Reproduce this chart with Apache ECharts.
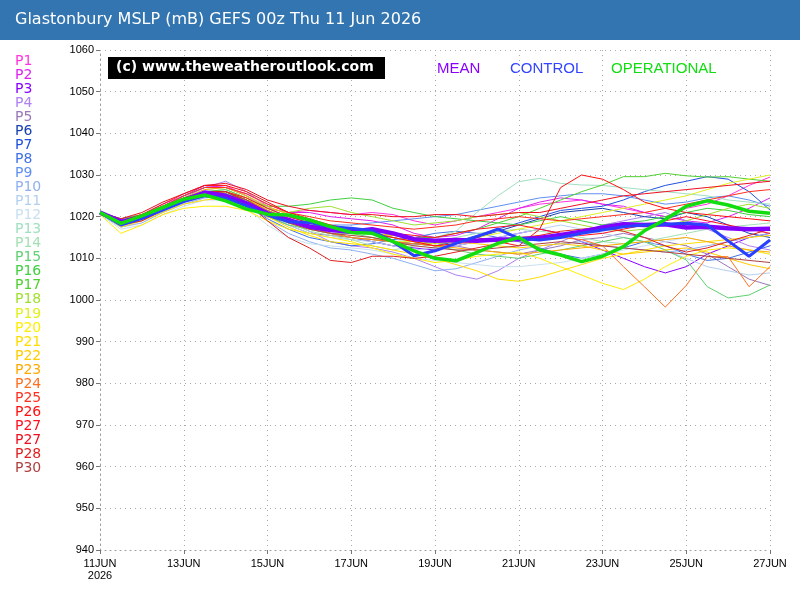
<!DOCTYPE html>
<html>
<head>
<meta charset="utf-8">
<script src="https://cdn.jsdelivr.net/npm/echarts@6/dist/echarts.min.js"></script>
<style>
  html,body{margin:0;padding:0;background:#fff;}
  #main{width:800px;height:600px;}
</style>
</head>
<body>
<div id="main"></div>
<script>
// 12 hourly steps, 11 Jun 00z -> 27 Jun 00z
var times = ['11JUN 00','11JUN 12','12JUN 00','12JUN 12','13JUN 00','13JUN 12','14JUN 00','14JUN 12',
  '15JUN 00','15JUN 12','16JUN 00','16JUN 12','17JUN 00','17JUN 12','18JUN 00','18JUN 12',
  '19JUN 00','19JUN 12','20JUN 00','20JUN 12','21JUN 00','21JUN 12','22JUN 00','22JUN 12',
  '23JUN 00','23JUN 12','24JUN 00','24JUN 12','25JUN 00','25JUN 12','26JUN 00','26JUN 12','27JUN 00'];

var memberNames = ['P1','P2','P3','P4','P5','P6','P7','P8','P9','P10','P11','P12','P13','P14','P15',
  'P16','P17','P18','P19','P20','P21','P22','P23','P24','P25','P26','P27','P27','P28','P30'];
var memberColors = ['#ff33dd','#dd22ee','#8800ff','#b080f0','#9a78b8','#1840b0','#2050e0','#4070e8','#6090f0','#90b0f0',
  '#b4d0f0','#c8e0f0','#a0e0c0','#a4e0b4','#60d070','#40d040','#50d030','#a0e030','#e0f020','#ffee00',
  '#ffdd00','#ffcc00','#ffaa00','#ff7020','#ff3020','#ff1010','#ff1020','#ee1020','#e02020','#b04040'];

var p1  = [1021,1019.5,1020.5,1023,1025,1027,1027.5,1025,1022,1021,1021.5,1021,1020.5,1021,1020.5,1019,1018,1019,1020,1021,1022,1023,1023.5,1024,1023,1022,1021,1020,1022,1023,1025,1027.5,1029.5];
var p2  = [1021,1019,1020,1022.5,1025,1027.5,1027,1025.5,1023,1021,1021,1020,1019.5,1019,1018,1016,1015,1015.5,1017,1019.5,1022,1023.5,1024.5,1024,1023,1022.5,1021,1020,1019,1018.5,1020,1022,1024.5];
var p3  = [1021,1018.5,1019.5,1022,1024,1026,1025.5,1024,1021,1019,1017,1016,1015,1014,1013,1012.5,1012,1013,1014,1015,1016,1017,1016,1014,1012,1010,1008,1006.5,1008,1011,1013,1015,1016];
var p4  = [1020.5,1018,1019.5,1022,1024.5,1027,1028.5,1026,1022.5,1019,1016.5,1014,1013,1012.5,1011.5,1010,1008,1006,1005,1007,1010,1012,1014,1016,1018,1019,1020,1021,1019,1017,1015,1013,1012];
var p5  = [1021,1018.5,1019.5,1022.5,1024,1025,1024.5,1023,1020,1018,1016,1015.5,1015,1014,1013,1013.5,1014,1013,1012,1011.5,1011,1012,1013,1014.5,1015,1016,1015,1014,1013,1011,1008,1005,1003.5];
var p6  = [1021,1019,1020,1022,1024,1026,1026,1024,1021.5,1019.5,1018,1017.5,1017,1016,1015,1014,1013.5,1014,1015,1016.5,1018,1019.5,1021,1021.5,1022,1021,1020,1019.5,1021,1020,1018,1016,1015];
var p7  = [1021,1018.5,1019.5,1021.5,1023.5,1025.5,1025,1023,1020,1018.5,1017.5,1016,1015,1014.5,1014,1013.5,1013,1014,1015.5,1017,1018.5,1020,1021.5,1022,1022.5,1024,1026,1027.5,1028.5,1029.6,1029,1026,1021.6];
var p8  = [1021,1018,1019,1021.5,1023.5,1025,1025.5,1023,1019.5,1017,1015,1014,1013,1013.5,1014.5,1015,1016,1016.5,1016,1015,1014,1012.5,1011,1010,1011,1012.5,1014,1013,1011,1009.5,1010,1011.5,1013];
var p9  = [1021,1018.5,1020,1022.5,1025,1027,1027,1025,1022,1020,1018.5,1018,1018,1018.5,1019,1019.5,1020,1020.5,1021.5,1022.5,1023.5,1024.5,1025,1025.5,1025.5,1025,1024,1023,1023.5,1024.5,1025,1024,1022.5];
var p10 = [1020.5,1017.5,1018.5,1021,1023,1024.5,1025,1023,1019,1016,1014,1012.5,1012,1011,1010,1008.5,1007,1007.5,1009,1010.5,1012,1013,1013.5,1014,1013,1012.5,1012,1011.5,1012,1013,1014,1015,1016];
var p11 = [1021,1018,1019,1021.5,1024,1026,1026.5,1024.5,1021,1018,1016,1015,1014.5,1014,1013,1012,1012.5,1013,1014,1015,1016,1017,1018,1017,1016,1015,1014,1012,1010,1008,1007,1006,1006.5];
var p12 = [1020.5,1017,1018,1020.5,1022.5,1024,1024,1022,1018,1015,1013.5,1013,1012.5,1012,1011,1010,1009.5,1009,1008.5,1008,1008,1008.5,1009,1010,1011,1012,1013,1014,1015,1014,1013,1012,1011];
var p13 = [1021,1018.5,1019.5,1022,1024.5,1026.5,1027,1025,1022,1019.5,1017,1016,1015,1014.5,1014,1014.5,1015,1016.5,1021,1025,1028.4,1029.2,1028,1027.6,1027.5,1027,1026.5,1026,1025.5,1025,1024,1023.5,1023];
var p14 = [1021,1018.5,1019.5,1022,1024,1025.5,1025.5,1024,1021,1018.5,1016.5,1015.5,1014.5,1013,1012,1013,1014,1015,1016,1016.5,1017,1016.5,1016,1015,1014,1013.5,1014,1015,1016,1017,1017.5,1018,1018.5];
var p15 = [1021,1019,1020,1022,1024,1025,1025,1023,1020,1018,1017,1016,1016,1015,1014,1013.5,1013,1012,1011,1010.5,1010,1011,1012,1013,1014,1015,1014,1012,1009.6,1003.2,1000.5,1001.2,1003.6];
var p16 = [1021,1019.5,1020.5,1022.5,1024.5,1026,1025.5,1024,1022.5,1022.5,1023,1024,1024.5,1024,1022,1021,1020,1019.5,1019,1018.5,1018,1019,1020,1019,1018,1018.5,1019,1020,1021,1022,1021.5,1020.5,1020];
var p17 = [1021,1019,1020,1022,1024.5,1026,1026.5,1024.5,1021.5,1019.5,1018,1017,1016.5,1016,1015.5,1015,1015,1016,1017,1018.5,1020,1022,1024,1026,1027.6,1029.6,1029.6,1030.4,1029.8,1029.5,1029.6,1029,1028.5];
var p18 = [1021,1019,1020.5,1022.5,1024.5,1025.5,1026,1024.5,1022,1021,1022,1022.5,1021,1020,1019,1018,1018.5,1019,1020,1020.5,1021,1020,1019,1018,1017,1016.5,1017,1018,1019,1020.5,1022,1023,1022];
var p19 = [1021,1018.5,1019.5,1021.5,1023.5,1025,1025,1023.5,1020.5,1018.5,1017,1016,1015,1014.5,1014,1014,1013.5,1014,1015,1016,1017,1018,1019,1020,1021,1022,1023,1024,1025,1026.5,1028,1029,1030];
var p20 = [1020.5,1016,1018,1020.5,1022,1022.5,1022.5,1021.5,1019,1017,1016,1015,1014,1012.5,1011,1010,1009,1009.5,1010.5,1011,1011.5,1010,1008,1006,1004,1002.5,1005,1008,1010.5,1012,1012.5,1012,1011];
var p21 = [1021,1017.5,1019,1021,1023,1024,1024.5,1023,1020,1017.5,1015.5,1014,1013.5,1013,1012,1011,1010,1008.5,1007,1005,1004.5,1005.5,1007,1008.5,1010,1011,1012,1013,1013.5,1014,1014.5,1015,1015.5];
var p22 = [1021,1018,1019.5,1022,1024,1025.5,1026,1024.5,1021.5,1019.5,1018,1017,1016.5,1016,1015.5,1015,1014.5,1014,1013.5,1013,1012.5,1013,1013.5,1013,1012,1011,1011.5,1012,1012.5,1011.5,1010,1008.5,1007.5];
var p23 = [1021,1018.5,1020,1022.5,1024.5,1026.5,1027,1025,1022.5,1020.5,1019,1018,1017,1016,1015,1014,1013,1012.5,1012,1011.5,1011,1011.5,1012,1012.5,1013,1013.5,1014,1014.5,1015,1014,1013,1012,1011.5];
var p24 = [1021,1018.5,1020,1022,1024,1026,1026,1024,1021.5,1019.5,1017.5,1016,1015,1014.5,1014,1013.5,1013,1013.5,1014,1014.5,1015,1015.5,1015,1014.5,1013,1008,1003.2,998.3,1003.5,1010.4,1010.4,1003.2,1008];
var p25 = [1021,1019,1020.5,1022.5,1025,1027,1027,1025.5,1023,1021,1020,1019,1018.5,1018,1017.5,1017,1017.5,1018,1019,1019.5,1020,1019.5,1019,1019.5,1020,1020.5,1021,1022,1023,1024,1025,1026,1026.5];
var p26 = [1021,1019,1020.5,1023,1025.5,1027.5,1027.5,1026,1023.5,1021,1019.5,1018,1017,1016,1015,1014,1013,1013.5,1015,1014,1013,1017,1027,1030,1029,1026.5,1023.5,1022,1021,1020.5,1020,1019.5,1019];
var p27 = [1021,1018.5,1020,1022.5,1024.5,1026,1026,1024.5,1022,1020,1018.5,1017.5,1017,1016.5,1016,1015.5,1015,1016,1017,1017.5,1018,1017,1016,1015.5,1016,1017,1018,1019,1020,1019,1018,1017,1016];
var p27b = [1021,1019.5,1021,1023.5,1025.5,1027.5,1028,1026.5,1024,1022.5,1021.5,1021,1020.5,1020.5,1020,1020,1020.5,1020.5,1020,1020.5,1021,1021,1022,1023,1024,1025,1025.5,1026,1026.5,1027,1027.5,1028,1028.5];
var p28 = [1021,1018,1019,1021.5,1024,1026,1026,1023.5,1019,1015,1012.5,1009.5,1009,1010.5,1010.5,1010,1010.5,1011.5,1012.5,1013.5,1014.5,1015.5,1016.5,1017,1017.5,1016.5,1015,1013,1011.5,1012.5,1014,1015.5,1017];
var p30 = [1021,1018.5,1019.5,1022,1024,1025.5,1026,1024,1021,1018.5,1017,1016,1015.5,1015,1014,1013,1012.5,1012,1012,1012.5,1013,1013.5,1014,1013.5,1013,1012.5,1012,1011.5,1011,1010.5,1010,1009.5,1009];
var members = [p1,p2,p3,p4,p5,p6,p7,p8,p9,p10,p11,p12,p13,p14,p15,p16,p17,p18,p19,p20,p21,p22,p23,p24,p25,p26,p27,p27b,p28,p30];

var meanData = [1021,1018.8,1019.8,1022,1024,1025.8,1025,1023.2,1020.8,1019.2,1017.6,1016.8,1016.4,1017,1016,1014.6,1014.2,1014.4,1014.2,1014.5,1014.6,1014.9,1015.6,1016.4,1017.4,1018.2,1018,1018.2,1017.4,1017.6,1017.2,1017,1017.1];
var controlData = [1021,1018,1019.6,1021.6,1023.6,1025,1024.4,1022.6,1020.4,1018.8,1018.6,1017.6,1017.2,1016.6,1014,1010.6,1011.8,1013.6,1015.2,1017,1014.8,1014.4,1015,1016,1016.8,1017.6,1018,1018.2,1018.4,1018,1014.2,1010.5,1014.4];
var operData = [1021,1018.4,1020.2,1022.2,1024.2,1025.2,1023.8,1021.8,1020.6,1020.4,1019.2,1017.6,1016.2,1016,1014,1011.8,1010,1009.4,1011.4,1013.6,1015,1012,1010.8,1009.2,1010.5,1012.8,1016.6,1019.3,1022.5,1023.8,1022.8,1021.3,1020.8];

var yTicks = [940,950,960,970,980,990,1000,1010,1020,1030,1040,1050,1060];

var chart = echarts.init(document.getElementById('main'), null, {renderer:'canvas'});

var series = [];
for(var i=0;i<members.length;i++){
  series.push({
    name:memberNames[i],
    type:'line',
    data:members[i],
    symbol:'none',
    silent:true,
    lineStyle:{width:1,color:memberColors[i]},
    z:2
  });
}
series.push({name:'MEAN',type:'line',data:meanData,symbol:'none',lineStyle:{width:4.5,color:'#8000ff'},z:3});
series.push({name:'CONTROL',type:'line',data:controlData,symbol:'none',lineStyle:{width:3,color:'#2a40ff'},z:4});
series.push({name:'OPERATIONAL',type:'line',data:operData,symbol:'none',lineStyle:{width:3.5,color:'#11dd11'},z:5});

var dots = [1,4];

// left hand member list + header bar + watermark
var graphics = [
  {type:'rect',left:0,top:0,shape:{width:800,height:40},style:{fill:'#3375b0'},z:10},
  {type:'text',left:15,top:12,style:{text:'Glastonbury MSLP (mB) GEFS 00z Thu 11 Jun 2026',fill:'#fff',font:'16px "DejaVu Sans", sans-serif'},z:11},
  {type:'rect',left:108,top:57,shape:{width:277,height:22},style:{fill:'#000'},z:10},
  {type:'text',left:116,top:60,style:{text:'(c) www.theweatheroutlook.com',fill:'#fff',font:'bold 14px "DejaVu Sans", sans-serif'},z:11},
  {type:'text',left:437,top:61,style:{text:'MEAN',fill:'#8800ff',font:'15px "Liberation Sans", Arial, sans-serif'},z:11},
  {type:'text',left:510,top:61,style:{text:'CONTROL',fill:'#3344ff',font:'15px "Liberation Sans", Arial, sans-serif'},z:11},
  {type:'text',left:611,top:61,style:{text:'OPERATIONAL',fill:'#11dd11',font:'15px "Liberation Sans", Arial, sans-serif'},z:11}
];
for(var k=0;k<memberNames.length;k++){
  graphics.push({type:'text',left:15,top:54+k*14.05,
    style:{text:memberNames[k],fill:memberColors[k],font:'14px "DejaVu Sans", sans-serif'},z:11});
}

chart.setOption({
  animation:false,
  backgroundColor:'#fff',
  grid:{left:100,right:30,top:50,bottom:50},
  xAxis:{
    type:'category',
    data:times,
    boundaryGap:false,
    axisLine:{show:true,lineStyle:{color:'#999',type:dots}},
    axisTick:{show:true,interval:3,length:4,lineStyle:{color:'#777'}},
    axisLabel:{
      interval:3,
      color:'#000',
      fontSize:11,
      fontFamily:'"Liberation Sans Narrow", "Liberation Sans", Arial, sans-serif',
      lineHeight:12,
      formatter:function(value,index){
        var day = value.split(' ')[0];
        if(index==0){return day+'\n2026';}
        return day;
      }
    },
    splitLine:{show:true,interval:3,lineStyle:{color:'#aaa',type:dots}}
  },
  yAxis:{
    type:'value',
    min:yTicks[0],
    max:yTicks[yTicks.length-1],
    interval:10,
    axisLine:{show:true,lineStyle:{color:'#999',type:dots}},
    axisTick:{show:true,length:4,lineStyle:{color:'#777'}},
    axisLabel:{color:'#000',fontSize:11,fontFamily:'"Liberation Sans", Arial, sans-serif',margin:6,
      formatter:function(v){return String(v);}},
    splitLine:{show:true,lineStyle:{color:'#aaa',type:dots}}
  },
  graphic:graphics,
  series:series
});
</script>
</body>
</html>
